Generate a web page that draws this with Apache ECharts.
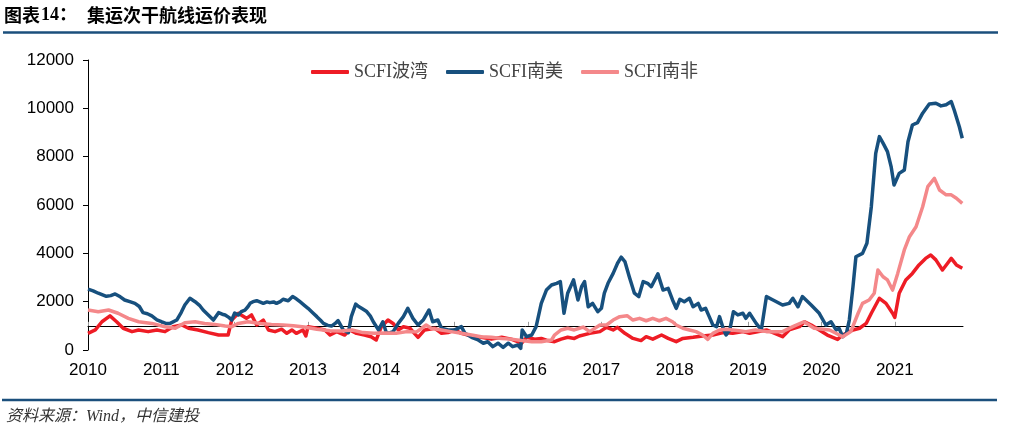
<!DOCTYPE html>
<html>
<head>
<meta charset="utf-8">
<script src="https://cdn.jsdelivr.net/npm/echarts@6/dist/echarts.min.js"></script>
<style>
html,body{margin:0;padding:0;background:#fff;}
#c{width:1013px;height:431px;}
</style>
</head>
<body>
<div id="c"></div>
<script>
// Series names
const seriesNames = ['SCFI波湾', 'SCFI南美', 'SCFI南非'];
// Y axis ticks
const yTicks = [0, 2000, 4000, 6000, 8000, 10000, 12000];
// X axis years
const years = [2010, 2011, 2012, 2013, 2014, 2015, 2016, 2017, 2018, 2019, 2020, 2021];

// SCFI 波湾 (Persian Gulf) — [decimal year, value]
const gulfData = [
[2010.00,690],[2010.10,830],[2010.19,1170],[2010.30,1410],[2010.39,1170],[2010.48,900],[2010.60,760],
[2010.69,830],[2010.82,760],[2010.94,830],[2011.05,760],[2011.16,965],[2011.28,1035],[2011.37,900],
[2011.50,830],[2011.64,720],[2011.78,620],[2011.91,620],[2011.96,1240],[2012.05,1520],[2012.16,1310],
[2012.23,1450],[2012.30,1035],[2012.39,1240],[2012.46,830],[2012.55,760],[2012.64,860],[2012.71,690],
[2012.78,830],[2012.84,690],[2012.93,830],[2012.97,580],[2013.00,965],[2013.12,900],[2013.23,830],
[2013.30,620],[2013.39,760],[2013.50,620],[2013.57,830],[2013.66,690],[2013.77,620],[2013.86,550],
[2013.93,414],[2014.00,965],[2014.09,1240],[2014.16,1100],[2014.23,830],[2014.30,965],[2014.39,900],
[2014.45,690],[2014.50,525],[2014.59,830],[2014.73,900],[2014.82,690],[2014.91,720],[2015.00,830],
[2015.09,690],[2015.23,580],[2015.36,525],[2015.50,450],[2015.64,525],[2015.77,450],[2015.91,280],
[2015.98,525],[2016.09,450],[2016.18,480],[2016.27,390],[2016.36,345],[2016.45,450],[2016.54,525],
[2016.63,480],[2016.70,580],[2016.84,690],[2016.98,760],[2017.07,940],[2017.16,830],[2017.22,940],
[2017.32,690],[2017.43,480],[2017.54,390],[2017.61,550],[2017.70,450],[2017.82,620],[2017.91,480],
[2018.02,345],[2018.11,480],[2018.25,525],[2018.38,580],[2018.52,620],[2018.66,720],[2018.79,690],
[2018.93,760],[2019.02,690],[2019.25,830],[2019.47,550],[2019.56,830],[2019.70,965],[2019.77,1170],
[2019.86,1035],[2019.97,830],[2020.08,620],[2020.22,440],[2020.29,620],[2020.43,830],[2020.52,900],
[2020.61,1100],[2020.68,1520],[2020.79,2140],[2020.88,1930],[2020.97,1520],[2021.00,1350],[2021.06,2350],
[2021.15,2900],[2021.24,3170],[2021.33,3520],[2021.42,3790],[2021.49,3930],[2021.56,3730],[2021.65,3310],
[2021.72,3590],[2021.77,3790],[2021.84,3520],[2021.92,3380]
];

// SCFI 南美 (South America)
const southAmericaData = [
[2010.00,2520],[2010.07,2450],[2010.14,2350],[2010.25,2220],[2010.31,2250],[2010.37,2320],[2010.44,2200],
[2010.50,2070],[2010.57,2000],[2010.64,1930],[2010.70,1800],[2010.75,1545],[2010.81,1500],[2010.87,1410],
[2010.94,1250],[2011.00,1170],[2011.06,1100],[2011.12,1100],[2011.21,1240],[2011.27,1550],[2011.32,1860],
[2011.39,2140],[2011.46,2000],[2011.52,1850],[2011.57,1655],[2011.64,1450],[2011.71,1240],[2011.78,1545],
[2011.83,1480],[2011.87,1450],[2011.92,1350],[2011.96,1240],[2012.00,1530],[2012.05,1450],[2012.09,1585],
[2012.14,1650],[2012.18,1790],[2012.21,1930],[2012.25,2000],[2012.30,2040],[2012.35,1980],[2012.39,1930],
[2012.44,1990],[2012.48,1960],[2012.53,1990],[2012.57,1930],[2012.62,2000],[2012.66,2100],[2012.73,2040],
[2012.79,2210],[2012.84,2120],[2012.89,2000],[2012.95,1850],[2013.00,1725],[2013.06,1550],[2013.12,1380],
[2013.17,1230],[2013.21,1100],[2013.27,1020],[2013.32,990],[2013.37,1100],[2013.41,1215],[2013.45,1000],
[2013.48,830],[2013.55,720],[2013.59,1380],[2013.65,1900],[2013.69,1800],[2013.73,1725],[2013.80,1590],
[2013.85,1400],[2013.89,1170],[2013.96,830],[2014.02,1170],[2014.07,690],[2014.12,720],[2014.16,760],
[2014.23,1100],[2014.30,1380],[2014.36,1725],[2014.43,1310],[2014.50,1035],[2014.57,1240],[2014.65,1655],
[2014.70,1170],[2014.77,1240],[2014.82,900],[2014.91,830],[2015.00,830],[2015.09,965],[2015.14,690],
[2015.23,525],[2015.32,414],[2015.39,280],[2015.45,340],[2015.52,140],[2015.59,280],[2015.66,110],
[2015.73,280],[2015.79,140],[2015.86,207],[2015.90,70],[2015.92,830],[2015.98,550],[2016.05,620],
[2016.11,965],[2016.18,1930],[2016.25,2480],[2016.32,2690],[2016.39,2760],[2016.44,2830],[2016.49,1520],
[2016.54,2350],[2016.62,2900],[2016.68,2070],[2016.73,2620],[2016.77,2830],[2016.82,1790],[2016.88,1930],
[2016.95,1585],[2017.00,1725],[2017.04,2350],[2017.09,2760],[2017.16,3170],[2017.22,3590],[2017.27,3840],
[2017.32,3660],[2017.38,3030],[2017.45,2350],[2017.51,2210],[2017.57,2830],[2017.63,2760],[2017.68,2620],
[2017.77,3150],[2017.84,2480],[2017.91,2550],[2017.97,2070],[2018.02,1725],[2018.07,2100],[2018.13,2000],
[2018.20,2140],[2018.25,1790],[2018.32,1930],[2018.36,1655],[2018.42,1725],[2018.47,1380],[2018.52,1035],
[2018.57,965],[2018.61,1380],[2018.66,900],[2018.70,620],[2018.75,830],[2018.80,1585],[2018.86,1450],
[2018.93,1520],[2018.97,1310],[2019.02,1520],[2019.11,1100],[2019.18,830],[2019.25,2210],[2019.34,2070],
[2019.47,1860],[2019.56,1930],[2019.61,2140],[2019.68,1790],[2019.74,2210],[2019.86,1860],[2019.97,1520],
[2020.06,1035],[2020.13,1170],[2020.20,830],[2020.24,900],[2020.29,550],[2020.34,690],[2020.38,1240],
[2020.43,2620],[2020.47,3860],[2020.56,4000],[2020.62,4420],[2020.68,5930],[2020.74,8140],[2020.79,8830],
[2020.84,8560],[2020.90,8210],[2020.95,7590],[2020.99,6830],[2021.06,7310],[2021.13,7450],[2021.18,8620],
[2021.24,9310],[2021.31,9410],[2021.38,9800],[2021.47,10180],[2021.56,10210],[2021.63,10100],[2021.70,10150],
[2021.77,10280],[2021.81,9930],[2021.88,9240],[2021.92,8760]
];

// SCFI 南非 (South Africa)
const southAfricaData = [
[2010.00,1655],[2010.14,1585],[2010.28,1655],[2010.41,1520],[2010.55,1310],[2010.69,1170],[2010.87,1100],
[2011.05,965],[2011.19,900],[2011.32,1130],[2011.46,1170],[2011.59,1100],[2011.73,1060],[2011.87,990],
[2011.96,965],[2012.05,1100],[2012.18,1170],[2012.35,1100],[2012.50,1060],[2012.66,1035],[2012.80,1000],
[2012.95,950],[2013.12,860],[2013.30,800],[2013.45,790],[2013.60,830],[2013.75,720],[2013.90,690],
[2014.05,700],[2014.20,690],[2014.35,760],[2014.48,750],[2014.55,900],[2014.61,1035],[2014.68,900],
[2014.82,830],[2014.95,760],[2015.09,690],[2015.23,620],[2015.36,550],[2015.50,525],[2015.64,480],
[2015.77,450],[2015.91,390],[2016.05,345],[2016.18,345],[2016.32,414],[2016.36,620],[2016.45,830],
[2016.54,900],[2016.63,830],[2016.70,900],[2016.75,950],[2016.84,760],[2016.98,1035],[2017.07,1035],
[2017.16,1240],[2017.25,1380],[2017.35,1420],[2017.43,1240],[2017.52,1310],[2017.61,1210],[2017.70,1310],
[2017.79,1210],[2017.88,1310],[2017.97,1170],[2018.02,1035],[2018.11,900],[2018.20,830],[2018.29,760],
[2018.38,620],[2018.45,440],[2018.52,690],[2018.61,830],[2018.70,860],[2018.79,830],[2018.88,800],
[2018.97,760],[2019.10,830],[2019.25,760],[2019.47,760],[2019.61,965],[2019.76,1170],[2019.90,900],
[2020.11,830],[2020.29,550],[2020.40,760],[2020.50,1520],[2020.56,1930],[2020.65,2070],[2020.72,2350],
[2020.77,3310],[2020.84,3030],[2020.90,2900],[2020.97,2480],[2021.04,3170],[2021.13,4140],[2021.20,4690],
[2021.29,5100],[2021.38,5930],[2021.45,6760],[2021.54,7100],[2021.61,6620],[2021.70,6420],[2021.77,6420],
[2021.84,6280],[2021.92,6070]
];

const colors = ['#EE1C25', '#17507E', '#F4888A'];

const chart = echarts.init(document.getElementById('c'), null, {renderer: 'canvas'});
const gridTop = 60, gridBottom = 81, gridH = 431 - gridTop - gridBottom;
const yMax = yTicks[yTicks.length - 1];
const baseLine = 1000;

chart.setOption({
  animation: false,
  backgroundColor: '#fff',
  graphic: [
    {type: 'text', left: 4, top: 6, style: {text: '图表', font: 'bold 18px "Noto Sans CJK SC"', fill: '#000'}},
    {type: 'text', left: 41, top: 6, style: {text: '14：', font: 'bold 18px "Liberation Serif", "Noto Sans CJK SC"', fill: '#000'}},
    {type: 'text', left: 87, top: 6, style: {text: '集运次干航线运价表现', font: 'bold 18px "Noto Sans CJK SC"', fill: '#000'}},
    {type: 'line', shape: {x1: 3, y1: 32.5, x2: 998, y2: 32.5}, style: {stroke: '#1B4F7C', lineWidth: 2.5}},
    {type: 'line', shape: {x1: 2, y1: 400, x2: 997, y2: 400}, style: {stroke: '#1B4F7C', lineWidth: 2.5}},
    {type: 'text', left: 6, top: 409, style: {text: '资料来源：Wind，中信建投', font: 'italic 16px "Liberation Serif", "Noto Sans CJK SC"', fill: '#333'}}
  ],
  legend: {
    data: seriesNames,
    left: 306,
    top: 58,
    icon: 'roundRect',
    itemWidth: 38,
    itemHeight: 4,
    itemGap: 18,
    textStyle: {fontFamily: '"Liberation Serif", "Noto Sans CJK SC"', fontSize: 18, color: '#444'}
  },
  grid: {left: 88, right: 50, top: gridTop, bottom: gridBottom, containLabel: false},
  xAxis: {
    type: 'value',
    min: years[0],
    max: 2021.93,
    interval: 1,
    offset: -gridH * baseLine / yMax,
    axisLine: {show: true, onZero: false, lineStyle: {color: '#000', width: 1}},
    axisTick: {show: true, inside: true, length: 4, lineStyle: {color: '#999'}},
    axisLabel: {
      margin: 36,
      showMaxLabel: false,
      fontSize: 17,
      fontFamily: '"Liberation Sans", Arial',
      color: '#000',
      formatter: v => (Math.abs(v - Math.round(v)) < 1e-6 ? String(Math.round(v)) : '')
    },
    splitLine: {show: false}
  },
  yAxis: {
    type: 'value',
    min: yTicks[0],
    max: yMax,
    interval: 2000,
    axisLine: {show: true, lineStyle: {color: '#000', width: 1}},
    axisTick: {show: true, length: 5, lineStyle: {color: '#000'}},
    axisLabel: {margin: 14, fontSize: 17, fontFamily: '"Liberation Sans", Arial', color: '#000',
      formatter: v => String(v)},
    splitLine: {show: false}
  },
  series: [
    {name: seriesNames[0], type: 'line', data: gulfData, showSymbol: false, symbol: 'none', color: colors[0],
     lineStyle: {width: 3.5, color: colors[0], join: 'round'}},
    {name: seriesNames[1], type: 'line', data: southAmericaData, showSymbol: false, symbol: 'none', color: colors[1],
     lineStyle: {width: 3.5, color: colors[1], join: 'round'}},
    {name: seriesNames[2], type: 'line', data: southAfricaData, showSymbol: false, symbol: 'none', color: colors[2],
     lineStyle: {width: 3.5, color: colors[2], join: 'round'}}
  ]
});
</script>
</body>
</html>
